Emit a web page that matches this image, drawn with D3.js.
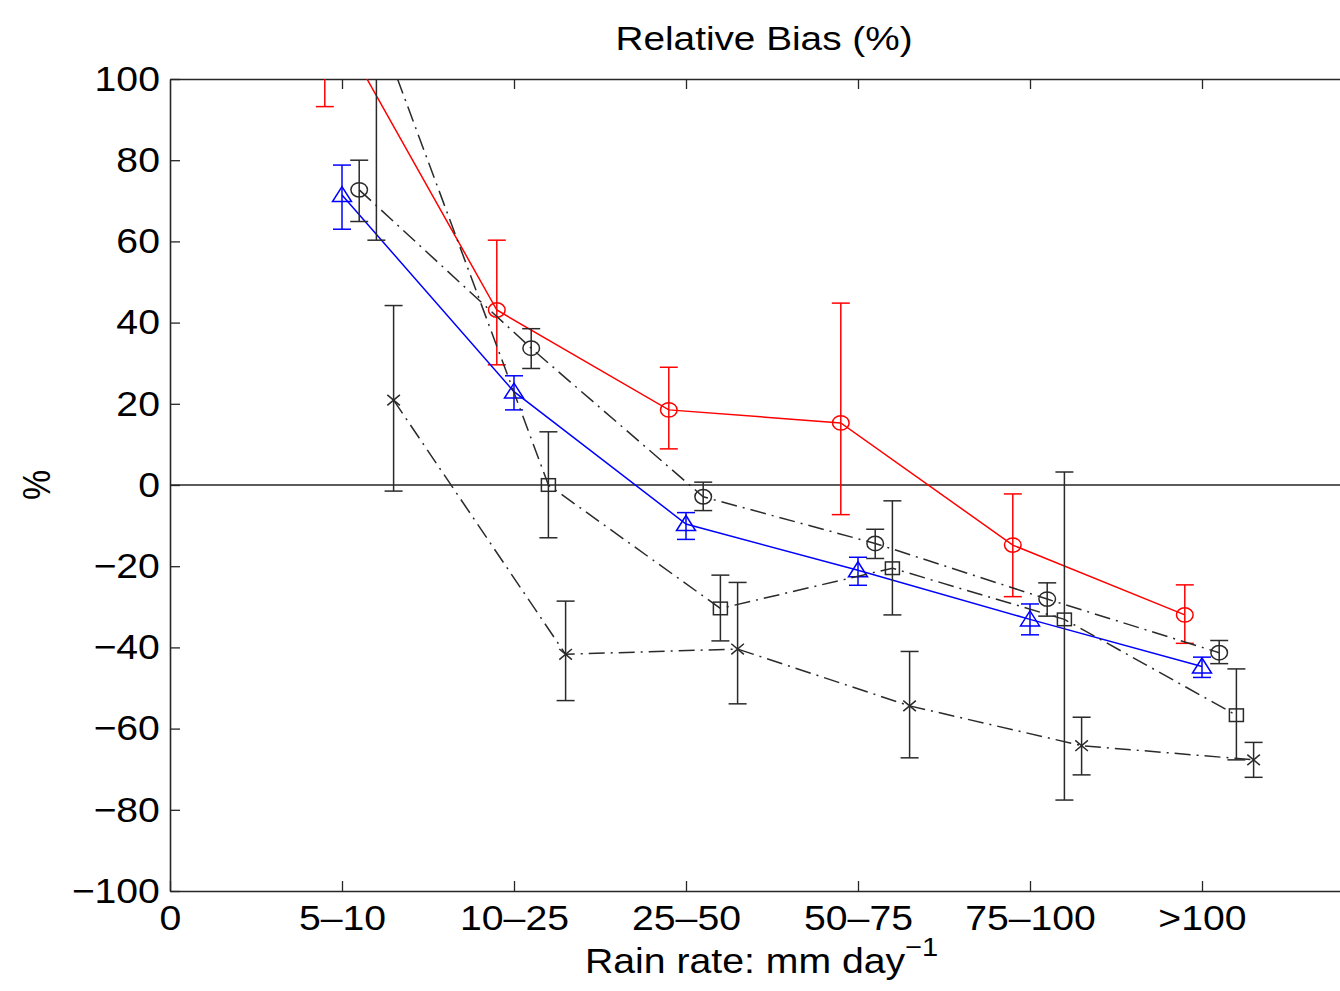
<!DOCTYPE html>
<html>
<head>
<meta charset="utf-8">
<script src="https://cdn.jsdelivr.net/npm/d3@7"></script>
<style>
  body { margin: 0; background: #fff; }
  svg { font-family: 'Liberation Sans', Arial, Helvetica, sans-serif; }
</style>
</head>
<body>
<svg width="1340" height="991"></svg>
<script>
// x tick labels (positions 0..6) and y ticks
const tickLabels = ['0', '5–10', '10–25', '25–50', '50–75', '75–100', '>100'];
const yTicks = [-100, -80, -60, -40, -20, 0, 20, 40, 60, 80, 100];

// red circles
const redBias = [118.5, 43.1, 18.5, 15.3, -14.8, -32.0];
const redLow  = [93.2, 29.6, 8.9, -7.3, -27.5, -39.0];
const redHigh = [143.8, 60.3, 29.0, 44.8, -2.2, -24.6];

// blue triangles
const blueBias = [71.4, 23.0, -9.6, -21.0, -33.1, -44.7];
const blueLow  = [63.0, 18.5, -13.4, -24.7, -36.9, -47.4];
const blueHigh = [78.8, 26.9, -6.8, -17.8, -29.3, -42.4];

// black circles
const circleBias = [72.7, 33.7, -2.9, -14.4, -28.1, -41.3];
const circleLow  = [64.9, 28.7, -6.3, -18.1, -32.3, -44.0];
const circleHigh = [80.0, 38.5, 0.7, -10.9, -24.1, -38.3];

// black squares
const squareBias = [114.0, 0.0, -30.4, -20.5, -33.1, -56.7];
const squareLow  = [60.3, -13.0, -38.4, -32.0, -77.6, -67.7];
const squareHigh = [168.0, 13.1, -22.2, -3.9, 3.2, -45.3];

// black crosses
const crossBias = [20.9, -41.7, -40.4, -54.4, -64.2, -67.7];
const crossLow  = [-1.5, -53.1, -53.9, -67.2, -71.4, -72.0];
const crossHigh = [44.2, -28.6, -24.0, -41.0, -57.2, -63.4];

(function (d3) {
    'use strict';

    const svg = d3.select('svg');
    const width = +svg.attr('width');
    const height = +svg.attr('height');
    // right margin is negative: the plot box runs past the picture edge
    const margin = { top: 79, right: -34, bottom: 100, left: 170 };
    const innerWidth = width - margin.left - margin.right;
    const innerHeight = height - margin.top - margin.bottom;
    const axisColor = '#262626';
    const ink = '#2a2a2a';
    const stretch = 'scale(1.12,1)';

    const xScale = d3.scaleLinear().domain([0, 7]).range([0, innerWidth]);
    const yScale = d3.scaleLinear().domain([-100, 100]).range([innerHeight, 0]);

    const series = [
        { values: redBias, low: redLow, high: redHigh, offset: -0.1, color: 'red', dash: null, marker: 'circle' },
        { values: blueBias, low: blueLow, high: blueHigh, offset: 0, color: 'blue', dash: null, marker: 'triangle' },
        { values: circleBias, low: circleLow, high: circleHigh, offset: 0.1, color: ink, dash: '16,6,2,6', marker: 'circle' },
        { values: squareBias, low: squareLow, high: squareHigh, offset: 0.2, color: ink, dash: '16,6,2,6', marker: 'square' },
        { values: crossBias, low: crossLow, high: crossHigh, offset: 0.3, color: ink, dash: '16,6,2,6', marker: 'cross' }
    ];

    svg.append('defs').append('clipPath')
        .attr('id', 'plot-clip')
      .append('rect')
        .attr('width', innerWidth)
        .attr('height', innerHeight);

    const g = svg.append('g')
        .attr('transform', `translate(${margin.left},${margin.top})`);

    // axes, MATLAB style: ticks point inwards
    const styleAxis = sel => {
        sel.select('.domain').attr('stroke', axisColor).attr('stroke-width', 1.6);
        sel.selectAll('.tick line').attr('stroke', axisColor).attr('stroke-width', 1.3);
        sel.selectAll('.tick text')
            .attr('fill', '#000')
            .attr('font-size', 35)
            .attr('font-family', "'Liberation Sans', Arial, sans-serif")
            .attr('transform', stretch);
    };

    g.append('g')
        .attr('transform', `translate(0,${innerHeight})`)
        .call(d3.axisBottom(xScale)
            .tickValues(d3.range(tickLabels.length))
            .tickFormat(i => tickLabels[i])
            .tickSize(-10).tickSizeOuter(0).tickPadding(14))
        .call(styleAxis);

    g.append('g')
        .call(d3.axisTop(xScale)
            .tickValues(d3.range(1, tickLabels.length))
            .tickFormat('')
            .tickSize(-10).tickSizeOuter(0))
        .call(styleAxis);

    g.append('g')
        .call(d3.axisLeft(yScale)
            .tickValues(yTicks)
            .tickSize(-10).tickSizeOuter(0).tickPadding(9))
        .call(styleAxis);

    g.append('g')
        .attr('transform', `translate(${innerWidth},0)`)
        .call(d3.axisRight(yScale)
            .tickValues(yTicks)
            .tickFormat('')
            .tickSize(-10).tickSizeOuter(0))
        .call(styleAxis);

    const plot = g.append('g').attr('clip-path', 'url(#plot-clip)');

    // zero reference line
    plot.append('line')
        .attr('x1', 0).attr('x2', innerWidth)
        .attr('y1', yScale(0)).attr('y2', yScale(0))
        .attr('stroke', axisColor)
        .attr('stroke-width', 1.3);

    const xPos = (s, i) => xScale(i + 1 + s.offset);

    const line = s => d3.line()
        .x((d, i) => xPos(s, i))
        .y(d => yScale(d));

    const cap = 9;

    series.forEach(s => {
        const sg = plot.append('g')
            .attr('fill', 'none')
            .attr('stroke', s.color)
            .attr('stroke-width', 1.5);

        sg.append('path')
            .attr('d', line(s)(s.values))
            .attr('stroke-dasharray', s.dash);

        // error bars
        const bars = sg.selectAll('.err').data(s.values).enter().append('g')
            .attr('class', 'err');
        bars.append('line')
            .attr('x1', (d, i) => xPos(s, i)).attr('x2', (d, i) => xPos(s, i))
            .attr('y1', (d, i) => yScale(s.low[i])).attr('y2', (d, i) => yScale(s.high[i]));
        bars.append('line')
            .attr('x1', (d, i) => xPos(s, i) - cap).attr('x2', (d, i) => xPos(s, i) + cap)
            .attr('y1', (d, i) => yScale(s.low[i])).attr('y2', (d, i) => yScale(s.low[i]));
        bars.append('line')
            .attr('x1', (d, i) => xPos(s, i) - cap).attr('x2', (d, i) => xPos(s, i) + cap)
            .attr('y1', (d, i) => yScale(s.high[i])).attr('y2', (d, i) => yScale(s.high[i]));

        // open markers
        const marks = sg.selectAll('.mark').data(s.values).enter().append('g')
            .attr('class', 'mark')
            .attr('transform', (d, i) => `translate(${xPos(s, i)},${yScale(d)})`);

        if (s.marker === 'circle') {
            marks.append('ellipse').attr('rx', 8.3).attr('ry', 7.2);
        } else if (s.marker === 'triangle') {
            marks.append('path').attr('d', 'M0,-8.5L9.5,6.5L-9.5,6.5Z');
        } else if (s.marker === 'square') {
            marks.append('rect')
                .attr('x', -7).attr('y', -6.3)
                .attr('width', 14).attr('height', 12.6);
        } else {
            marks.append('path').attr('d', 'M-6.3,-5.3L6.3,5.3M-6.3,5.3L6.3,-5.3');
        }
    });

    // title and axis labels
    svg.append('text')
        .attr('transform', 'translate(764,50) scale(1.14,1)')
        .attr('text-anchor', 'middle')
        .attr('font-size', 34)
        .text('Relative Bias (%)');

    const xLabel = svg.append('text')
        .attr('transform', `translate(585,973) ${stretch}`)
        .attr('font-size', 35);
    xLabel.append('tspan').text('Rain rate: mm day');
    xLabel.append('tspan')
        .attr('dy', -17)
        .attr('font-size', 26)
        .text('−1');

    svg.append('text')
        .attr('transform', `translate(50,485) ${stretch} rotate(-90)`)
        .attr('text-anchor', 'middle')
        .attr('font-size', 34)
        .text('%');
}(d3));
</script>
</body>
</html>
